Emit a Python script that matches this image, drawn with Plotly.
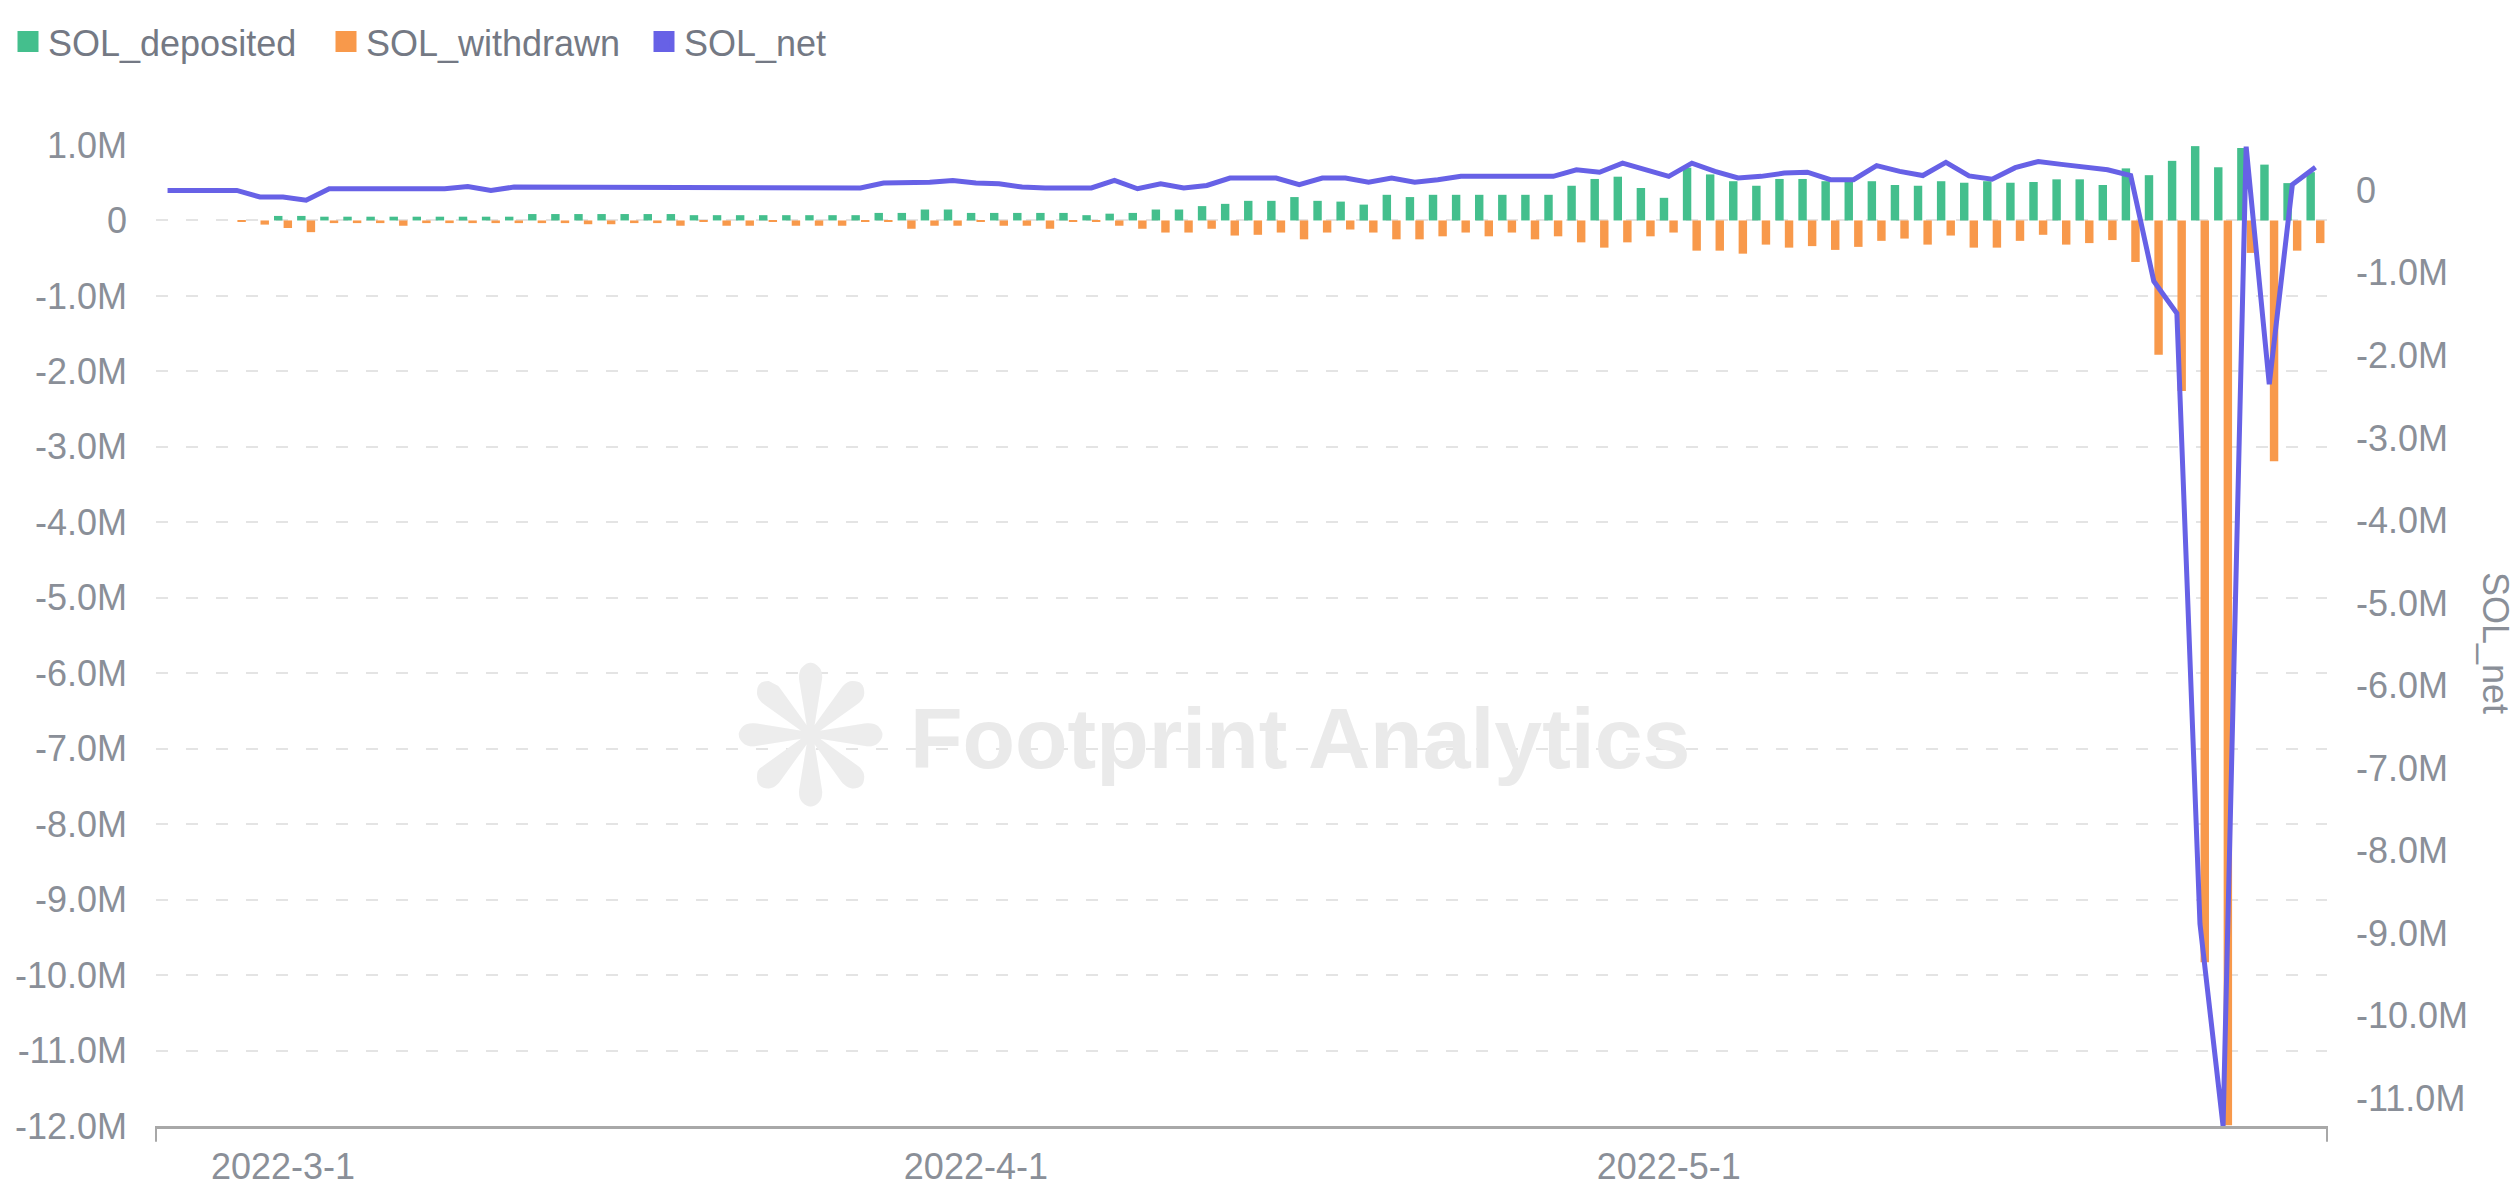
import pandas as pd
import plotly.graph_objects as go

# ---------------- data ----------------
# daily categories (one March day absent from the source data)
all_days = pd.date_range("2022-02-24", "2022-05-29", freq="D")
missing_day = pd.Timestamp("2022-03-12")
dates = [d.strftime("%Y-%m-%d") for d in all_days if d != missing_day]

sol_deposited = [
    0, 0, 0, 0, 0, 60000, 60000,
    50000, 50000, 50000, 50000, 50000, 50000, 50000, 50000, 50000,
    85000, 85000, 85000, 85000, 85000, 85000, 85000,
    70000, 70000, 70000, 70000, 70000, 70000, 70000, 70000,
    100000, 100000, 145000, 145000, 100000, 100000, 100000, 100000, 100000,
    70000, 90000, 100000, 145000, 145000, 190000, 220000, 260000,
    260000, 310000, 260000, 250000, 210000, 340000, 310000, 340000, 340000, 340000,
    340000, 340000, 340000, 460000, 550000, 580000, 430000, 300000, 700000, 610000,
    520000, 460000, 550000, 550000, 520000, 510000, 520000, 470000, 460000, 520000,
    500000, 520000, 500000, 510000, 545000, 545000, 470000, 690000, 600000, 790000,
    985000, 705000, 960000, 740000, 495000, 640000,
]

sol_withdrawn = [
    0, 0, 0, -20000, -55000, -100000, -155000,
    -35000, -35000, -35000, -70000, -35000, -35000, -35000, -35000, -35000,
    -35000, -35000, -50000, -50000, -35000, -35000, -70000,
    -20000, -70000, -70000, -20000, -70000, -70000, -70000, -20000,
    -20000, -110000, -70000, -70000, -20000, -70000, -70000, -110000, -20000,
    -20000, -70000, -110000, -160000, -160000, -110000, -200000, -190000,
    -160000, -250000, -160000, -120000, -160000, -250000, -250000, -210000, -160000, -210000,
    -160000, -250000, -210000, -290000, -360000, -290000, -210000, -160000, -400000, -400000,
    -440000, -320000, -360000, -340000, -390000, -350000, -270000, -240000, -320000, -200000,
    -360000, -360000, -270000, -190000, -320000, -300000, -260000, -550000, -1780000, -2260000,
    -9830000, -11990000, -430000, -3190000, -400000, -300000,
]

sol_net = [
    0, 0, 0, 0, -80000, -80000, -120000,
    20000, 20000, 20000, 20000, 20000, 20000, 46000, 0, 40000,
    40000, 40000, 40000, 40000, 40000, 40000, 40000,
    30000, 30000, 30000, 30000, 30000, 30000, 30000, 30000,
    90000, 90000, 100000, 120000, 90000, 80000, 40000, 30000, 30000,
    30000, 120000, 20000, 80000, 30000, 60000, 150000, 150000,
    150000, 70000, 150000, 150000, 100000, 150000, 100000, 130000, 170000, 170000,
    170000, 170000, 170000, 250000, 220000, 330000, 250000, 170000, 330000, 230000,
    150000, 170000, 210000, 220000, 130000, 130000, 300000, 230000, 180000, 340000,
    175000, 135000, 275000, 350000, 315000, 290000, 250000, 180000, -1100000, -1490000,
    -8890000, -11340000, 530000, -2350000, 70000, 280000,
]

x_tick_vals = ["2022-03-01", "2022-04-01", "2022-05-01"]
x_tick_text = ["2022-3-1", "2022-4-1", "2022-5-1"]

left_tick_vals = [1e6 - k * 1e6 for k in range(14)]
left_tick_text = ["1.0M", "0"] + [f"-{k}.0M" for k in range(1, 13)]
right_tick_vals = [-k * 1e6 for k in range(12)]
right_tick_text = ["0"] + [f"-{k}.0M" for k in range(1, 12)]

left_range = [-12e6, 1e6]
right_range = [-11.34e6, 0.55e6]

# ---------------- style ----------------
GREEN = "#44bf8d"
ORANGE = "#f8994b"
PURPLE = "#6761e6"
TICK_COLOR = "#8a8f98"
LEGEND_COLOR = "#747984"
FONT = "Liberation Sans, Arial, sans-serif"
FS = 36

fig = go.Figure()

fig.add_trace(go.Bar(
    x=dates, y=sol_deposited, name="SOL_deposited",
    marker=dict(color=GREEN, line=dict(width=0)),
    legendgroup="dep", showlegend=False, yaxis="y",
))
fig.add_trace(go.Bar(
    x=dates, y=sol_withdrawn, name="SOL_withdrawn",
    marker=dict(color=ORANGE, line=dict(width=0)),
    legendgroup="wd", showlegend=False, yaxis="y",
))
fig.add_trace(go.Scatter(
    x=dates, y=sol_net, name="SOL_net", mode="lines",
    line=dict(color=PURPLE, width=5),
    legendgroup="net", showlegend=False, yaxis="y2",
))

# legend entries (square swatches)
for name, col, grp in [("SOL_deposited", GREEN, "dep"),
                       ("SOL_withdrawn", ORANGE, "wd"),
                       ("SOL_net", PURPLE, "net")]:
    fig.add_trace(go.Scatter(
        x=[None], y=[None], mode="markers", name=name, legendgroup=grp,
        marker=dict(symbol="square", size=16, color=col, line=dict(color=col, width=5)),
        showlegend=True,
    ))

fig.update_layout(
    width=2518, height=1201,
    margin=dict(l=148, r=199, t=137, b=83),
    paper_bgcolor="white", plot_bgcolor="white",
    font=dict(family=FONT, size=FS, color=TICK_COLOR),
    barmode="group", bargap=0.17, bargroupgap=0.12,
    showlegend=True,
    legend=dict(
        orientation="h", xref="container", yref="container",
        x=0.0, y=0.997, xanchor="left", yanchor="top",
        font=dict(size=FS, color=LEGEND_COLOR, family=FONT),
        itemwidth=30, entrywidth=273, entrywidthmode="pixels",
        bgcolor="rgba(0,0,0,0)", tracegroupgap=0,
    ),
    xaxis=dict(
        type="category", categoryorder="array", categoryarray=dates,
        tickvals=x_tick_vals, ticktext=x_tick_text,
        showgrid=False, zeroline=False, automargin=False,
        showline=True, linecolor="#a8a8a8", linewidth=3,
        ticks="", ticklabelstandoff=7,
        tickfont=dict(size=FS, color=TICK_COLOR),
    ),
    yaxis=dict(
        range=left_range, automargin=False,
        tickvals=left_tick_vals, ticktext=left_tick_text,
        showgrid=True, gridcolor="#e4e4e4", gridwidth=1.5, griddash="12px,18px",
        zeroline=False, showline=False, ticks="",
        ticklabelstandoff=28,
        tickfont=dict(size=FS, color=TICK_COLOR),
    ),
    yaxis2=dict(
        range=right_range, overlaying="y", side="right", automargin=False,
        tickvals=right_tick_vals, ticktext=right_tick_text,
        showgrid=False, zeroline=False, showline=False, ticks="",
        ticklabelstandoff=28,
        tickfont=dict(size=FS, color=TICK_COLOR),
    ),
)

# small end ticks on x-axis
for xp in (0, 1):
    fig.add_shape(type="line", xref="paper", yref="paper",
                  x0=xp, x1=xp, y0=0, y1=-0.016,
                  line=dict(color="#a8a8a8", width=2))

# right axis title
fig.add_annotation(
    text="SOL_net", xref="paper", yref="paper", x=1.0774, y=0.4924,
    xanchor="center", yanchor="middle",
    showarrow=False, textangle=90,
    font=dict(size=FS, color=TICK_COLOR, family=FONT),
)

# watermark
fig.add_annotation(
    text="❋", xref="paper", yref="paper", x=0.3017, y=0.3945,
    xanchor="center", yanchor="middle",
    showarrow=False, font=dict(size=190, color="#ededed", family="DejaVu Sans"),
)
fig.add_annotation(
    text="<b>Footprint Analytics</b>", xref="paper", yref="paper", x=0.527, y=0.396,
    xanchor="center", yanchor="middle",
    showarrow=False, font=dict(size=86, color="#eaeaea", family=FONT),
)

fig.write_html("out.html")
